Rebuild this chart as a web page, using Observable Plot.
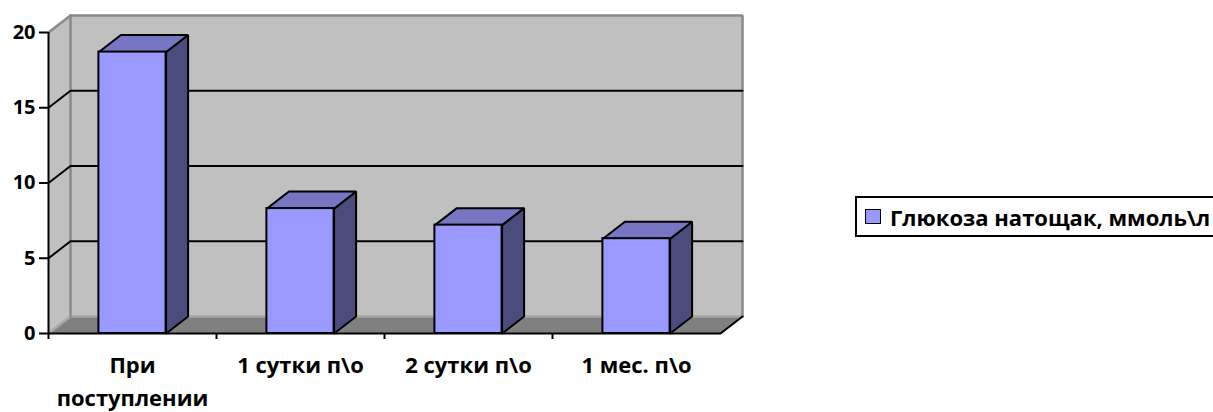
<!DOCTYPE html>
<html>
<head>
<meta charset="utf-8">
<script src="https://cdn.jsdelivr.net/npm/d3@7"></script>
<script src="https://cdn.jsdelivr.net/npm/@observablehq/plot@0.6"></script>
<style>
  html, body { margin: 0; padding: 0; background: #fff; }
  #wrap { position: relative; width: 1213px; height: 412px; overflow: hidden; font-family: "Open Sans", sans-serif; }
  #legend {
    position: absolute; left: 855px; top: 196px; height: 41px; width: 420px;
    box-sizing: border-box; border: 2px solid #000; background: #fff;
    display: flex; align-items: center; font-weight: bold; font-size: 22px; color: #000;
    white-space: nowrap;
  }
  #legend .sw {
    flex: none; width: 14px; height: 13px; margin-left: 8px; margin-right: 9px;
    background: #9999ff; border: 1.5px solid #000;
  }
</style>
</head>
<body>
<div id="wrap">
  <div id="chart"></div>
  <div id="legend"><span class="sw"></span><span id="legend-text"></span></div>
</div>
<script>
// Fasting glucose by time point
const categories = ["При поступлении", "1 сутки п\\о", "2 сутки п\\о", "1 мес. п\\о"];
const categoryLabels = ["При\nпоступлении", "1 сутки п\\о", "2 сутки п\\о", "1 мес. п\\о"];
const glucose = [18.7, 8.3, 7.2, 6.3];
const seriesName = "Глюкоза натощак, ммоль\\л";
const yTicks = [0, 5, 10, 15, 20];
const gridValues = [5, 10, 15];
const boundaries = [0, 1, 2, 3];

// depth of the 3-D box, expressed in data units (x in category steps, y in mmol/l)
const DX = 0.131, DY = 1.13;
const YMAX = 20, NCAT = categories.length;
const HALF = 0.2; // half bar width in category steps

const colors = {
  front: "#9999ff", top: "#7676c2", side: "#4b4b7d",
  wall: "#c0c0c0", floor: "#808080", edge: "#8a8a8a"
};

// turn a list of polygons into rows for Plot.line (one z per polygon, closed)
function polyRows(polys) {
  const rows = [];
  polys.forEach((pts, k) => {
    [...pts, pts[0]].forEach(([x, y]) => rows.push({k, x, y}));
  });
  return rows;
}
function segRows(segs) {
  const rows = [];
  segs.forEach((s, k) => s.forEach(([x, y]) => rows.push({k, x, y})));
  return rows;
}

const backWall = polyRows([[[DX, DY], [NCAT + DX, DY], [NCAT + DX, YMAX + DY], [DX, YMAX + DY]]]);
const sideWall = polyRows([[[0, 0], [DX, DY], [DX, YMAX + DY], [0, YMAX]]]);
const floor = polyRows([[[0, 0], [NCAT, 0], [NCAT + DX, DY], [DX, DY]]]);

const wallEdges = segRows([
  [[DX, YMAX + DY], [NCAT + DX, YMAX + DY], [NCAT + DX, DY]],
  [[0, YMAX], [DX, YMAX + DY]],
  [[DX, DY], [DX, YMAX + DY]]
]);
const floorBackEdge = segRows([[[0, 0], [DX, DY], [NCAT + DX, DY]]]);
const floorFrontEdge = segRows([[[0, 0], [NCAT, 0], [NCAT + DX, DY]]]);

const gridRows = segRows(gridValues.map(v => [[0, v], [DX, v + DY], [NCAT + DX, v + DY]]));

const bars = glucose.map((v, i) => ({cat: categories[i], v, x0: i + 0.5 - HALF, x1: i + 0.5 + HALF}));
const sideFaces = polyRows(bars.map(b => [[b.x1, 0], [b.x1 + DX, DY], [b.x1 + DX, b.v + DY], [b.x1, b.v]]));
const topFaces = polyRows(bars.map(b => [[b.x0, b.v], [b.x1, b.v], [b.x1 + DX, b.v + DY], [b.x0 + DX, b.v + DY]]));

const chart = Plot.plot({
  width: 850,
  height: 412,
  marginLeft: 48,
  marginRight: 130,
  marginTop: 32,
  marginBottom: 79,
  style: {fontFamily: "Open Sans, sans-serif", fontSize: "19px", fontWeight: "bold", color: "#000", background: "transparent", overflow: "visible"},
  x: {domain: [0, NCAT], axis: null},
  y: {domain: [0, YMAX], axis: null},
  marks: [
    Plot.line(backWall, {x: "x", y: "y", z: "k", fill: colors.wall, stroke: null}),
    Plot.line(sideWall, {x: "x", y: "y", z: "k", fill: colors.wall, stroke: null}),
    Plot.line(floor, {x: "x", y: "y", z: "k", fill: colors.floor, stroke: null}),
    Plot.line(floorBackEdge, {x: "x", y: "y", z: "k", stroke: "#a6a6a6", strokeWidth: 2.5}),
    Plot.line(wallEdges, {x: "x", y: "y", z: "k", stroke: colors.edge, strokeWidth: 2.5, strokeLinejoin: "miter"}),
    Plot.line(gridRows, {x: "x", y: "y", z: "k", stroke: "#000", strokeWidth: 2}),
    Plot.line(floorFrontEdge, {x: "x", y: "y", z: "k", stroke: "#000", strokeWidth: 2, strokeLinejoin: "miter"}),
    // bars: side, top, front faces
    Plot.line(sideFaces, {x: "x", y: "y", z: "k", fill: colors.side, stroke: "#000", strokeWidth: 2, strokeLinejoin: "miter"}),
    Plot.line(topFaces, {x: "x", y: "y", z: "k", fill: colors.top, stroke: "#000", strokeWidth: 2, strokeLinejoin: "miter"}),
    Plot.rectY(bars, {x1: "x0", x2: "x1", y1: 0, y2: "v", fill: colors.front, stroke: "#000", strokeWidth: 2}),
    // value axis
    Plot.ruleX([0], {y1: 0, y2: YMAX, stroke: "#000", strokeWidth: 2}),
    Plot.axisY({ticks: yTicks, tickSize: 9, tickPadding: 4, strokeWidth: 2, fontSize: 20, fontWeight: "bold"}),
    // category tick marks and labels
    Plot.axisX({ticks: boundaries, tickSize: 6, strokeWidth: 2, tickFormat: () => ""}),
    Plot.text(categoryLabels, {
      x: (d, i) => i + 0.5, y: () => 0, text: d => d,
      dy: 16, lineAnchor: "top", lineHeight: 1.5,
      fontSize: 22, fontWeight: "bold", fill: "#000"
    })
  ]
});

document.getElementById("chart").appendChild(chart);
document.getElementById("legend-text").textContent = seriesName;
</script>
</body>
</html>
